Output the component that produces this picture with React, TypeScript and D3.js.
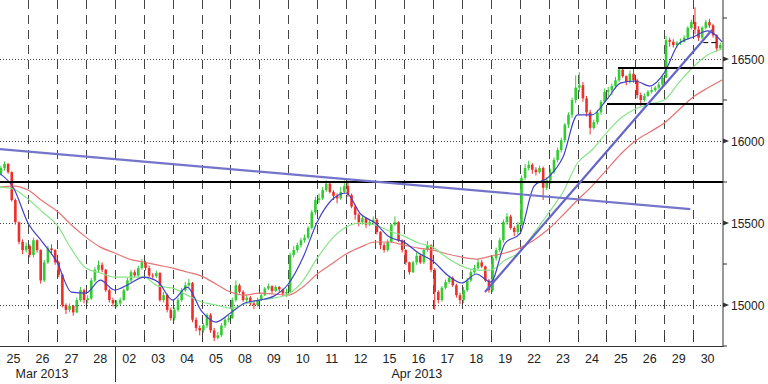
import React from "react";
import * as d3 from "d3";

const W = 768;
const H = 384;

const dayLabels = ["25","26","27","28","02","03","04","05","08","09","10","11","12","15","16","17","18","19","22","23","24","25","26","29","30"];
const monthLabels = ["Mar 2013", "Apr 2013"];
const monthStartDays = [0, 13];
const monthSeparatorDays = [4];

const firstOpen = 15800;

// 8 candles per trading day
const closes = [
  15835, 15860, 15810, 15640, 15505, 15385, 15335, 15360,
  15305, 15395, 15335, 15150, 15260, 15345, 15335, 15260,
  15185, 15000, 14970, 14995, 14955, 15030, 15090, 15030,
  15040, 15150, 15215, 15245, 15215, 15090, 15030, 15010,
  15010, 15030, 15090, 15150, 15200, 15180, 15225, 15260,
  15225, 15180, 15175, 15195, 15030, 15060, 14970, 14920,
  14970, 15030, 15090, 15120, 15135, 14910, 14860, 14845,
  14875, 14940, 14845, 14800, 14815, 14875, 14910, 14920,
  15030, 15120, 15080, 15030, 15045, 15010, 15000, 15030,
  15060, 15100, 15115, 15085, 15110, 15095, 15070, 15080,
  15305, 15335, 15365, 15395, 15410, 15470, 15565, 15640,
  15650, 15700, 15740, 15690, 15665, 15650, 15690, 15725,
  15670, 15600, 15550, 15505, 15530, 15490, 15505, 15520,
  15445, 15365, 15335, 15385, 15490, 15505, 15395, 15335,
  15260, 15200, 15260, 15300, 15260, 15335, 15365, 15215,
  15080, 15030, 15105, 15140, 15165, 15120, 15060, 15030,
  15090, 15150, 15200, 15225, 15260, 15235, 15150, 15090,
  15285, 15335, 15395, 15505, 15540, 15470, 15445, 15490,
  15775, 15835, 15855, 15825, 15810, 15835, 15715, 15760,
  15810, 15885, 15945, 16005, 16100, 16160, 16250, 16325,
  16340, 16260, 16175, 16080, 16115, 16175, 16240, 16300,
  16310, 16335, 16370, 16435, 16395, 16360, 16410, 16370,
  16280, 16250, 16275, 16300, 16310, 16325, 16345, 16385,
  16615, 16605, 16585, 16600, 16605, 16630, 16690, 16725,
  16680, 16630, 16690, 16725, 16705, 16645, 16565, 16585,
];

const highs = [
  15850, 15875, 15865, 15815, 15650, 15510, 15400, 15380,
  15370, 15410, 15400, 15340, 15275, 15360, 15370, 15340,
  15270, 15190, 15010, 15010, 15000, 15045, 15110, 15100,
  15060, 15165, 15230, 15270, 15260, 15220, 15100, 15045,
  15030, 15045, 15100, 15165, 15215, 15215, 15240, 15280,
  15270, 15240, 15195, 15210, 15200, 15080, 15070, 14985,
  14985, 15045, 15105, 15140, 15160, 15140, 14925, 14875,
  14890, 14950, 14950, 14860, 14835, 14890, 14925, 14940,
  15045, 15150, 15130, 15090, 15060, 15055, 15030, 15045,
  15075, 15110, 15130, 15120, 15120, 15115, 15100, 15100,
  15320, 15360, 15380, 15410, 15430, 15480, 15580, 15660,
  15680, 15720, 15760, 15755, 15700, 15680, 15720, 15760,
  15745, 15680, 15610, 15560, 15545, 15535, 15520, 15540,
  15530, 15450, 15380, 15400, 15495, 15540, 15510, 15400,
  15340, 15265, 15270, 15320, 15310, 15345, 15390, 15370,
  15225, 15090, 15115, 15155, 15180, 15175, 15130, 15075,
  15110, 15165, 15215, 15245, 15280, 15275, 15240, 15160,
  15300, 15350, 15410, 15520, 15560, 15550, 15480, 15505,
  15790, 15860, 15880, 15865, 15840, 15850, 15845, 15780,
  15830, 15900, 15960, 16020, 16110, 16175, 16265, 16400,
  16420, 16360, 16275, 16190, 16130, 16190, 16250, 16320,
  16330, 16350, 16390, 16450, 16445, 16400, 16430, 16440,
  16380, 16295, 16290, 16310, 16330, 16335, 16360, 16400,
  16640, 16630, 16620, 16610, 16625, 16645, 16700, 16740,
  16815, 16700, 16700, 16740, 16745, 16715, 16650, 16600,
];

const lows = [
  15790, 15820, 15800, 15630, 15490, 15370, 15310, 15320,
  15290, 15290, 15320, 15130, 15140, 15250, 15310, 15245,
  15170, 14985, 14945, 14955, 14935, 14950, 15020, 15010,
  15010, 15030, 15140, 15200, 15200, 15080, 15015, 14990,
  14985, 15000, 15025, 15085, 15140, 15170, 15170, 15215,
  15210, 15170, 15160, 15165, 15020, 15015, 14955, 14905,
  14905, 14960, 15020, 15080, 15105, 14895, 14840, 14815,
  14830, 14860, 14830, 14780, 14790, 14805, 14860, 14895,
  14915, 15020, 15070, 15020, 15015, 14995, 14975, 14990,
  15025, 15055, 15090, 15070, 15080, 15075, 15055, 15050,
  15080, 15290, 15320, 15350, 15380, 15400, 15460, 15550,
  15620, 15640, 15690, 15680, 15640, 15620, 15640, 15680,
  15660, 15590, 15520, 15480, 15490, 15470, 15480, 15495,
  15430, 15340, 15320, 15325, 15380, 15480, 15385, 15320,
  15245, 15185, 15195, 15245, 15250, 15250, 15325, 15200,
  14970, 15010, 15020, 15095, 15130, 15110, 15045, 15005,
  15010, 15080, 15140, 15190, 15215, 15225, 15140, 15075,
  15080, 15270, 15320, 15380, 15490, 15460, 15420, 15430,
  15480, 15760, 15820, 15800, 15790, 15800, 15640, 15700,
  15740, 15800, 15870, 15930, 15990, 16080, 16140, 16230,
  16300, 16240, 16150, 16040, 16070, 16100, 16160, 16230,
  16270, 16280, 16320, 16360, 16385, 16340, 16350, 16355,
  16260, 16215, 16240, 16270, 16290, 16300, 16315, 16330,
  16390, 16575, 16570, 16570, 16585, 16600, 16620, 16680,
  16650, 16610, 16620, 16680, 16690, 16630, 16545, 16555,
];

// moving averages sampled every half day (t = 0, 0.5, ... 25)
const blueMA = [
  15805, 15713, 15500, 15384, 15262, 15079, 15073, 15152, 15091, 15128,
  15170, 15140, 15030, 15109, 14963, 14896, 14951, 15012, 15030, 15054,
  15128, 15286, 15506, 15640, 15683, 15555, 15500, 15414, 15384, 15317,
  15268, 15183, 15134, 15189, 15140, 15378, 15433, 15725, 15780, 15902,
  16159, 16159, 16250, 16354, 16366, 16335, 16415, 16592, 16634, 16671,
  16604,
];
const greenMA = [
  15719, 15707, 15646, 15567, 15488, 15341, 15225, 15195, 15170, 15170,
  15170, 15115, 15103, 15060, 15018, 15000, 14981, 15006, 15030, 15042,
  15067, 15146, 15286, 15402, 15475, 15500, 15488, 15451, 15420, 15378,
  15353, 15286, 15237, 15213, 15213, 15274, 15323, 15439, 15561, 15689,
  15866, 15945, 16049, 16140, 16195, 16226, 16250, 16354, 16451, 16525,
  16561,
];
const redMA = [
  15719, 15725, 15701, 15634, 15573, 15488, 15414, 15353, 15317, 15280,
  15262, 15243, 15225, 15201, 15176, 15128, 15079, 15060, 15073, 15067,
  15060, 15109, 15189, 15250, 15311, 15353, 15384, 15384, 15365, 15347,
  15335, 15311, 15292, 15280, 15298, 15317, 15347, 15396, 15463, 15549,
  15640, 15725, 15823, 15921, 16000, 16055, 16110, 16189, 16268, 16323,
  16372,
];

const yTicksMajor = [15000, 15500, 16000, 16500];
const yTicksMinor = [14750, 15250, 15750, 16250, 16750];

const resistanceLevel = 15750;
const downTrend: [number, number][] = [[0, 15951], [23.9, 15585]];
const upTrend: [number, number][] = [[16.8, 15079], [24.65, 16677]];
const shortLevels = [
  { from: 21.4, value: 16445 },
  { from: 21.02, value: 16226 },
];
const lastPrice = { from: 24.35, to: 24.83, value: 16600 };

export default function App() {
  const nDays = dayLabels.length;
  const perDay = 8;
  const x = d3.scaleLinear().domain([0, nDays]).range([-0.9, 722.1]);
  const y = d3.scaleLinear().domain([15000, 16500]).range([305, 59]);
  const plotRight = 723;
  const plotBottom = 346.5;

  const maT = blueMA.map((_, i) => i * 0.5);
  const line = d3
    .line<number>()
    .x((_, i) => x(maT[i]))
    .y((d) => y(d))
    .curve(d3.curveMonotoneX);

  const candles = closes.map((c, i) => {
    const o = i === 0 ? firstOpen : closes[i - 1];
    const t = Math.floor(i / perDay) + ((i % perDay) + 0.5) / perDay;
    const hi = Math.max(highs[i], o, c);
    const lo = Math.min(lows[i], o, c);
    return { t, o, c, hi, lo };
  });

  const boundaries = d3.range(1, nDays);
  const font = "'Liberation Sans', Arial, sans-serif";

  return (
    <svg
      width={W}
      height={H}
      style={{ position: "absolute", left: 0, top: 0, background: "#fff" }}
      xmlns="http://www.w3.org/2000/svg"
    >
      <rect x={0} y={0} width={W} height={H} fill="#fff" />
      <defs>
        <clipPath id="plot">
          <rect x={0} y={0} width={plotRight} height={plotBottom} />
        </clipPath>
      </defs>
      {/* grid */}
      {yTicksMajor.map((v) => (
        <line key={"hg" + v} x1={0} x2={plotRight} y1={y(v) + 0.5} y2={y(v) + 0.5}
          stroke="#444" strokeWidth={1} strokeDasharray="1,2" />
      ))}
      {boundaries.map((b) => (
        <line key={"vg" + b} x1={Math.round(x(b)) + 0.5} x2={Math.round(x(b)) + 0.5} y1={0} y2={plotBottom - 4}
          stroke="#444" strokeWidth={1} strokeDasharray="9,6" />
      ))}
      <g clipPath="url(#plot)">
        {/* candles */}
        {candles.map((d, i) => {
          const col = d.c >= d.o ? "#33cc33" : "#ec2f2a";
          const cx = x(d.t);
          const top = y(Math.max(d.o, d.c));
          const bot = y(Math.min(d.o, d.c));
          return (
            <g key={"c" + i}>
              <line x1={cx} x2={cx} y1={y(d.hi)} y2={y(d.lo)} stroke={col} strokeWidth={1} />
              <rect x={cx - 1.3} y={top} width={2.6} height={Math.max(1, bot - top)} fill={col} />
            </g>
          );
        })}
        {/* moving averages */}
        <path d={line(redMA) || ""} fill="none" stroke="#e67575" strokeWidth={1.2} />
        <path d={line(greenMA) || ""} fill="none" stroke="#88e488" strokeWidth={1.2} />
        <path d={line(blueMA) || ""} fill="none" stroke="#4040c8" strokeWidth={1.2} />
        {/* horizontal resistance */}
        <line x1={0} x2={plotRight} y1={y(resistanceLevel)} y2={y(resistanceLevel)} stroke="#000" strokeWidth={2} />
        {shortLevels.map((s, i) => (
          <line key={"sl" + i} x1={x(s.from)} x2={plotRight} y1={y(s.value)} y2={y(s.value)} stroke="#000" strokeWidth={2} />
        ))}
        <line x1={x(lastPrice.from)} x2={x(lastPrice.to)} y1={y(lastPrice.value)} y2={y(lastPrice.value)}
          stroke="#000" strokeWidth={1} strokeDasharray="5,3" />
        {/* trendlines */}
        <line x1={x(downTrend[0][0])} y1={y(downTrend[0][1])} x2={x(downTrend[1][0])} y2={y(downTrend[1][1])}
          stroke="#7475ca" strokeWidth={2.2} />
        <line x1={x(upTrend[0][0])} y1={y(upTrend[0][1])} x2={x(upTrend[1][0])} y2={y(upTrend[1][1])}
          stroke="#6364c6" strokeWidth={2.2} />
      </g>
      {/* axes */}
      <line x1={0} x2={plotRight + 0.5} y1={plotBottom} y2={plotBottom} stroke="#333" strokeWidth={1} />
      <line x1={plotRight} x2={plotRight} y1={0} y2={plotBottom} stroke="#333" strokeWidth={1} />
      {boundaries.map((b) => (
        <line key={"xt" + b} x1={Math.round(x(b)) + 0.5} x2={Math.round(x(b)) + 0.5} y1={336} y2={342}
          stroke="#333" strokeWidth={1} />
      ))}
      {monthSeparatorDays.map((b) => (
        <line key={"ms" + b} x1={Math.round(x(b)) + 0.5} x2={Math.round(x(b)) + 0.5} y1={plotBottom} y2={382}
          stroke="#333" strokeWidth={1} />
      ))}
      {dayLabels.map((lab, i) => (
        <text key={"dl" + i} x={x(i + 0.5)} y={363} textAnchor="middle" fontFamily={font} fontSize={12.5} fill="#222">
          {lab}
        </text>
      ))}
      {monthLabels.map((lab, i) => (
        <text key={"ml" + i} x={x(monthStartDays[i] + 0.5) + 2} y={378} textAnchor="start" fontFamily={font} fontSize={12.5} fill="#222">
          {lab}
        </text>
      ))}
      {yTicksMinor.map((v) => (
        <line key={"ymt" + v} x1={plotRight} x2={plotRight + 4} y1={y(v)} y2={y(v)} stroke="#333" strokeWidth={1} />
      ))}
      {yTicksMajor.map((v) => (
        <g key={"yt" + v}>
          <path d={`M${plotRight},${y(v) - 2.5} L${plotRight + 6},${y(v)} L${plotRight},${y(v) + 2.5} Z`} fill="#333" />
          <text x={plotRight + 8} y={y(v) + 4.5} textAnchor="start" fontFamily={font} fontSize={12} fill="#222">
            {v}
          </text>
        </g>
      ))}
    </svg>
  );
}
